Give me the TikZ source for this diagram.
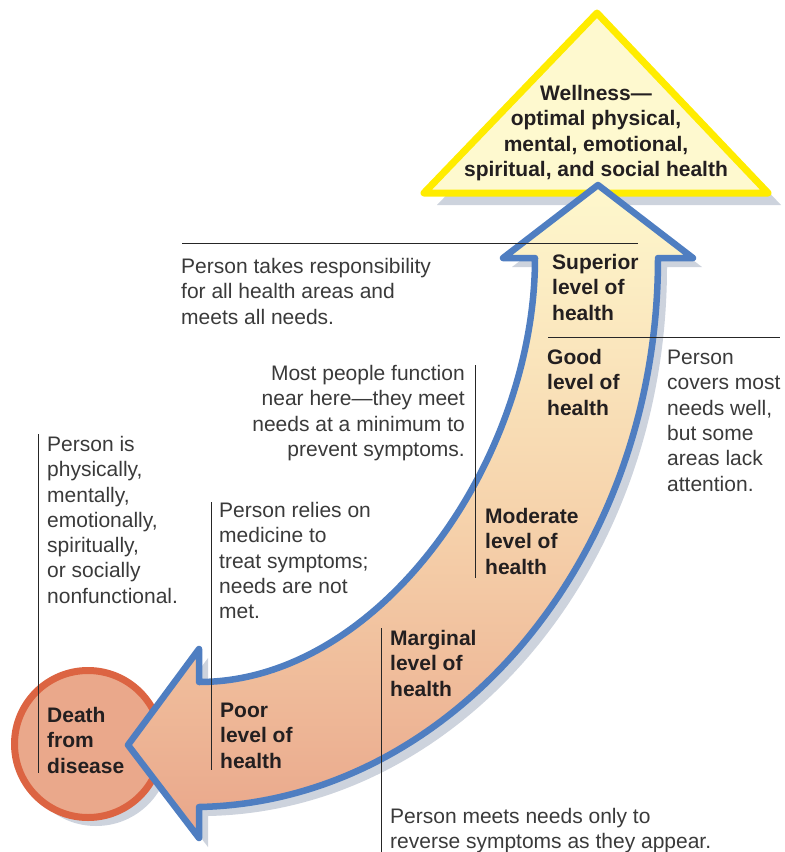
\documentclass[tikz,border=0pt]{standalone}
\usepackage{fontspec}
\setmainfont{Liberation Sans}

\definecolor{arrowblue}{HTML}{4F7EC1}
\definecolor{arrowtop}{HTML}{FEF8CD}
\definecolor{arrowmid}{HTML}{F6D3AC}
\definecolor{arrowbot}{HTML}{E9A68A}
\definecolor{wellyellow}{HTML}{FFEC00}
\definecolor{wellfill}{HTML}{FEF9CF}
\definecolor{deathred}{HTML}{DC6442}
\definecolor{deathfill}{HTML}{EAA88B}
\definecolor{shadowgray}{HTML}{CDD3DD}
\definecolor{labeldark}{HTML}{231F20}
\definecolor{notegray}{HTML}{3A3A3A}

% 弯箭头的轮廓
\newcommand{\healtharrow}{(128,745) -- (199,649) -- (199,682)
  .. controls (380,682) and (535,460) .. (535,258)
  -- (503,258) -- (598,185) -- (693,258) -- (658,258)
  .. controls (658,560) and (450,802) .. (199,807)
  -- (199,838) -- cycle}

\begin{document}
\begin{tikzpicture}[x=1pt,y=-1pt,
  level/.style={anchor=north west,align=left,inner sep=0pt,text=labeldark,font=\fontsize{21}{25.3}\selectfont\bfseries},
  note/.style={anchor=north west,align=left,inner sep=0pt,text=notegray,font=\fontsize{21}{25.3}\selectfont},
  leader/.style={line width=0.9pt,draw=black!85},
  shadow/.style={fill=shadowgray,draw=none}]
\useasboundingbox (0,0) rectangle (785,852);

% 圆: 死亡
\fill[shadow] (96,752) circle (74);
\node[circle,draw=deathred,fill=deathfill,line width=7pt,minimum size=147pt,inner sep=0pt] (death) at (88,744) {};

% 三角形: 健康
\fill[shadow] (437,205) -- (610,25) -- (781,205) -- cycle;
\draw[draw=wellyellow,fill=wellfill,line width=7pt,line join=round] (424,193) -- (597,13) -- (768,193) -- cycle;
\node[level,anchor=north,align=center] (wellness) at (596,85) {Wellness—\\optimal physical,\\mental, emotional,\\spiritual, and social health};

% 箭头
\fill[shadow,shift={(9,9)}] \healtharrow;
\draw[draw=arrowblue,line width=6.5pt,line join=round,top color=arrowtop,bottom color=arrowbot,middle color=arrowmid] \healtharrow;

% 引线
\coordinate (takesA) at (182,243);
\coordinate (takesB) at (638,243);
\coordinate (coversA) at (548,337);
\coordinate (coversB) at (780,337);
\coordinate (mostA) at (475,365);
\coordinate (mostB) at (475,578);
\coordinate (nonA) at (38,434);
\coordinate (nonB) at (38,773);
\coordinate (reliesA) at (211,502);
\coordinate (reliesB) at (211,770);
\coordinate (meetsA) at (381,628);
\coordinate (meetsB) at (381,852);
\draw[leader] (takesA) -- (takesB);
\draw[leader] (coversA) -- (coversB);
\draw[leader] (mostA) -- (mostB);
\draw[leader] (nonA) -- (nonB);
\draw[leader] (reliesA) -- (reliesB);
\draw[leader] (meetsA) -- (meetsB);

% 各级健康
\node[level] (superior) at (552,254) {Superior\\level of\\health};
\node[level] (good) at (547,349) {Good\\level of\\health};
\node[level] (moderate) at (485,508) {Moderate\\level of\\health};
\node[level] (marginal) at (390,630) {Marginal\\level of\\health};
\node[level] (poor) at (220,703) {Poor\\level of\\health};
\node[level] (deathtext) at (47,707) {Death\\from\\disease};

% 说明文字
\node[note] (takes) at (181,258) {Person takes responsibility\\for all health areas and\\meets all needs.};
\node[note,anchor=north east,align=right] (most) at (465,365) {Most people function\\near here—they meet\\needs at a minimum to\\prevent symptoms.};
\node[note] (covers) at (667,350) {Person\\covers most\\needs well,\\but some\\areas lack\\attention.};
\node[note] (nonfunc) at (47,436) {Person is\\physically,\\mentally,\\emotionally,\\spiritually,\\or socially\\nonfunctional.};
\node[note] (relies) at (219,502) {Person relies on\\medicine to\\treat symptoms;\\needs are not\\met.};
\node[note] (meets) at (390,808) {Person meets needs only to\\reverse symptoms as they appear.};
\end{tikzpicture}
\end{document}
